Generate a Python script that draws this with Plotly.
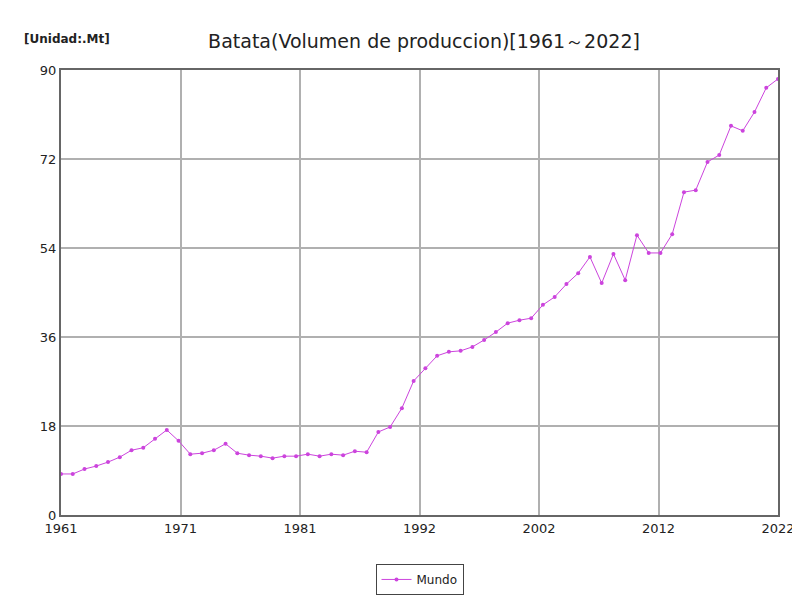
import plotly.graph_objects as go

years = list(range(1961, 2023))
mundo = [8.3, 8.3, 9.3, 9.9, 10.7, 11.7, 13.1, 13.6, 15.4, 17.2,
         15.0, 12.3, 12.5, 13.1, 14.4, 12.5, 12.1, 11.9, 11.5, 11.9,
         11.9, 12.3, 11.9, 12.3, 12.1, 12.9, 12.7, 16.8, 17.8, 21.6,
         27.1, 29.7, 32.2, 33.0, 33.2, 34.0, 35.4, 37.0, 38.8, 39.4,
         39.8, 42.5, 44.1, 46.7, 48.9, 52.2, 46.9, 52.8, 47.5, 56.6,
         53.0, 53.0, 56.8, 65.3, 65.7, 71.4, 72.8, 78.7, 77.7, 81.5,
         86.4, 88.2]
tick_text = ["1961", "1971", "1981", "1992", "2002", "2012", "2022"]
tick_vals = [1961 + k * 61 / 6 for k in range(7)]

fig = go.Figure()
fig.add_trace(go.Scatter(x=years, y=mundo, mode="lines+markers", name="Mundo",
                         line=dict(color="#cc44dd", width=1),
                         marker=dict(color="#cc44dd", size=4)))

fig.update_layout(
    width=800, height=600,
    paper_bgcolor="white", plot_bgcolor="white",
    font=dict(family="DejaVu Sans", color="#222"),
    title=dict(text="Batata(Volumen de produccion)[1961～2022]", x=0.52, y=0.955,
               xanchor="center", font=dict(size=19)),
    margin=dict(l=53, r=30, t=62, b=93, autoexpand=False),
    showlegend=True,
    legend=dict(orientation="h", x=0.5, xanchor="center", y=-0.11, yanchor="top",
                bordercolor="#444", borderwidth=1, font=dict(size=12)),
    annotations=[dict(text="<b>[Unidad:.Mt]</b>", xref="paper", yref="paper", x=-0.055, y=1.05,
                      xanchor="left", yanchor="bottom", showarrow=False,
                      font=dict(size=12, color="#222"))],
)
fig.update_xaxes(range=[1961, 2022], tickvals=tick_vals, ticktext=tick_text,
                 showgrid=True, gridcolor="#b0b0b0", gridwidth=1.5,
                 showline=True, linecolor="#666", linewidth=2, mirror=True,
                 ticks="", tickfont=dict(size=13), automargin=False)
fig.update_yaxes(range=[0, 90], tickvals=[0, 18, 36, 54, 72, 90],
                 showgrid=True, gridcolor="#b0b0b0", gridwidth=1.5,
                 showline=True, linecolor="#666", linewidth=2, mirror=True,
                 zeroline=False, ticks="", tickfont=dict(size=13), automargin=False)

fig.write_html("out.html")
